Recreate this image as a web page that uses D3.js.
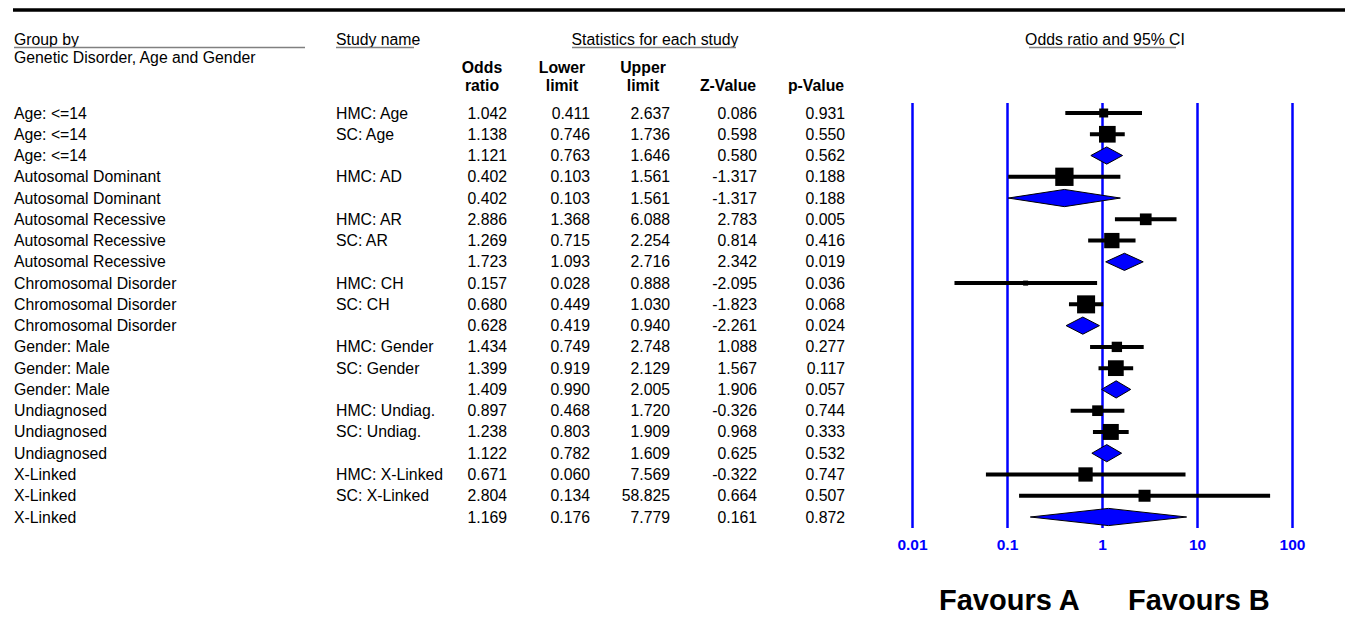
<!DOCTYPE html>
<html>
<head>
<meta charset="utf-8">
<script src="https://cdn.jsdelivr.net/npm/d3@7"></script>
<style>
  body { margin: 0; background: #fff; }
  svg text { font-family: "Liberation Sans", Arial, sans-serif; }
</style>
</head>
<body>
<div id="chart"></div>
<script>
// rows of the forest plot (summary rows have no study name)
const groups = [
  "Age: <=14", "Age: <=14", "Age: <=14",
  "Autosomal Dominant", "Autosomal Dominant",
  "Autosomal Recessive", "Autosomal Recessive", "Autosomal Recessive",
  "Chromosomal Disorder", "Chromosomal Disorder", "Chromosomal Disorder",
  "Gender: Male", "Gender: Male", "Gender: Male",
  "Undiagnosed", "Undiagnosed", "Undiagnosed",
  "X-Linked", "X-Linked", "X-Linked"
];
const studies = [
  "HMC: Age", "SC: Age", "",
  "HMC: AD", "",
  "HMC: AR", "SC: AR", "",
  "HMC: CH", "SC: CH", "",
  "HMC: Gender", "SC: Gender", "",
  "HMC: Undiag.", "SC: Undiag.", "",
  "HMC: X-Linked", "SC: X-Linked", ""
];
const oddsRatio = ["1.042","1.138","1.121","0.402","0.402","2.886","1.269","1.723","0.157","0.680","0.628","1.434","1.399","1.409","0.897","1.238","1.122","0.671","2.804","1.169"];
const lowerLimit = ["0.411","0.746","0.763","0.103","0.103","1.368","0.715","1.093","0.028","0.449","0.419","0.749","0.919","0.990","0.468","0.803","0.782","0.060","0.134","0.176"];
const upperLimit = ["2.637","1.736","1.646","1.561","1.561","6.088","2.254","2.716","0.888","1.030","0.940","2.748","2.129","2.005","1.720","1.909","1.609","7.569","58.825","7.779"];
const zValue = ["0.086","0.598","0.580","-1.317","-1.317","2.783","0.814","2.342","-2.095","-1.823","-2.261","1.088","1.567","1.906","-0.326","0.968","0.625","-0.322","0.664","0.161"];
const pValue = ["0.931","0.550","0.562","0.188","0.188","0.005","0.416","0.019","0.036","0.068","0.024","0.277","0.117","0.057","0.744","0.333","0.532","0.747","0.507","0.872"];
// relative weight within group (drives square area)
const weight = [24, 83, null, 100, null, 41, 70, null, 7.5, 97, null, 32, 74, null, 34, 76, null, 61, 43, null];
const ticks = [0.01, 0.1, 1, 10, 100];

const w = 1347, h = 621;
const fs = 15.8;

const rows = groups.map((g, i) => ({
  group: g, study: studies[i],
  or: +oddsRatio[i], lo: +lowerLimit[i], hi: +upperLimit[i],
  cells: [oddsRatio[i], lowerLimit[i], upperLimit[i], zValue[i], pValue[i]],
  weight: weight[i], summary: studies[i] === ""
}));

const svg = d3.select("#chart").append("svg")
  .attr("width", w).attr("height", h);

const y = d3.scalePoint()
  .domain(d3.range(rows.length))
  .range([113, 517]);

const x = d3.scaleLog()
  .domain([0.01, 100])
  .range([912, 1292]);

const side = d3.scaleSqrt().domain([0, 100]).range([0, 18.3]);

// top rule
svg.append("line")
  .attr("x1", 13).attr("x2", 1345).attr("y1", 10).attr("y2", 10)
  .attr("stroke", "#000").attr("stroke-width", 3.5);

// header
const head = svg.append("g").attr("font-size", fs);
head.append("text").attr("x", 14).attr("y", 45).text("Group by");
head.append("text").attr("x", 14).attr("y", 63).text("Genetic Disorder, Age and Gender");
head.append("text").attr("x", 336).attr("y", 45).text("Study name");
head.append("text").attr("x", 655).attr("y", 45).attr("text-anchor", "middle").text("Statistics for each study");
head.append("text").attr("x", 1105).attr("y", 45).attr("text-anchor", "middle").text("Odds ratio and 95% CI");

[[14, 305], [336, 414], [572, 736], [1029, 1176]].forEach(([a, b]) => {
  head.append("line")
    .attr("x1", a).attr("x2", b).attr("y1", 47.5).attr("y2", 47.5)
    .attr("stroke", "#808080").attr("stroke-width", 1.5);
});

const colRight = [507, 590, 670, 757, 845];
const colHead = [["Odds", "ratio"], ["Lower", "limit"], ["Upper", "limit"], ["", "Z-Value"], ["", "p-Value"]];
const colCenter = [482, 562, 643, 728, 816];
colHead.forEach((lines, j) => {
  lines.forEach((t, k) => {
    if (!t) return;
    head.append("text")
      .attr("x", colCenter[j]).attr("y", 73 + k * 18)
      .attr("text-anchor", "middle").attr("font-weight", "bold")
      .text(t);
  });
});

// table body
const body = svg.append("g").attr("font-size", fs);
const rowG = body.selectAll("g.row")
  .data(rows)
  .join("g")
    .attr("class", "row")
    .attr("transform", (d, i) => "translate(0," + (y(i) + 5.5) + ")");

rowG.append("text").attr("x", 14).text(d => d.group);
rowG.append("text").attr("x", 336).text(d => d.study);
rowG.selectAll("text.num")
  .data(d => d.cells)
  .join("text")
    .attr("class", "num")
    .attr("x", (d, j) => colRight[j])
    .attr("text-anchor", "end")
    .text(d => d);

// axis with full-height gridlines
const axisY = 528;
const axis = d3.axisBottom(x)
  .tickValues(ticks)
  .tickFormat(d => String(d))
  .tickSize(-(axisY - 103))
  .tickPadding(11);

svg.append("g")
  .attr("transform", "translate(0," + axisY + ")")
  .call(axis)
  .call(g => g.select(".domain").remove())
  .call(g => g.selectAll(".tick line")
    .attr("stroke", "#0000ff").attr("stroke-width", 2.5))
  .call(g => g.selectAll(".tick text")
    .attr("fill", "#0000ff")
    .attr("font-size", 15.5)
    .attr("font-weight", "bold")
    .attr("font-family", "'Liberation Sans', Arial, sans-serif"));

// study estimates
const studyRows = rows.map((d, i) => ({ ...d, i })).filter(d => !d.summary);

svg.selectAll("line.ci")
  .data(studyRows)
  .join("line")
    .attr("class", "ci")
    .attr("x1", d => x(d.lo)).attr("x2", d => x(d.hi))
    .attr("y1", d => y(d.i)).attr("y2", d => y(d.i))
    .attr("stroke", "#000").attr("stroke-width", 4);

svg.selectAll("rect.est")
  .data(studyRows)
  .join("rect")
    .attr("class", "est")
    .attr("x", d => x(d.or) - side(d.weight) / 2)
    .attr("y", d => y(d.i) - side(d.weight) / 2)
    .attr("width", d => side(d.weight))
    .attr("height", d => side(d.weight))
    .attr("fill", "#000");

// pooled diamonds
const sumRows = rows.map((d, i) => ({ ...d, i })).filter(d => d.summary);
const dh = 8.6;

svg.selectAll("path.pooled")
  .data(sumRows)
  .join("path")
    .attr("class", "pooled")
    .attr("d", d => {
      const c = y(d.i);
      return "M" + x(d.lo) + "," + c +
        "L" + x(d.or) + "," + (c - dh) +
        "L" + x(d.hi) + "," + c +
        "L" + x(d.or) + "," + (c + dh) + "Z";
    })
    .attr("fill", "#0000ff")
    .attr("stroke", "#000")
    .attr("stroke-width", 1);

// favours labels
svg.append("text")
  .attr("x", 939).attr("y", 610)
  .attr("font-size", 29).attr("font-weight", "bold")
  .text("Favours A");
svg.append("text")
  .attr("x", 1128).attr("y", 610)
  .attr("font-size", 29).attr("font-weight", "bold")
  .text("Favours B");
</script>
</body>
</html>
